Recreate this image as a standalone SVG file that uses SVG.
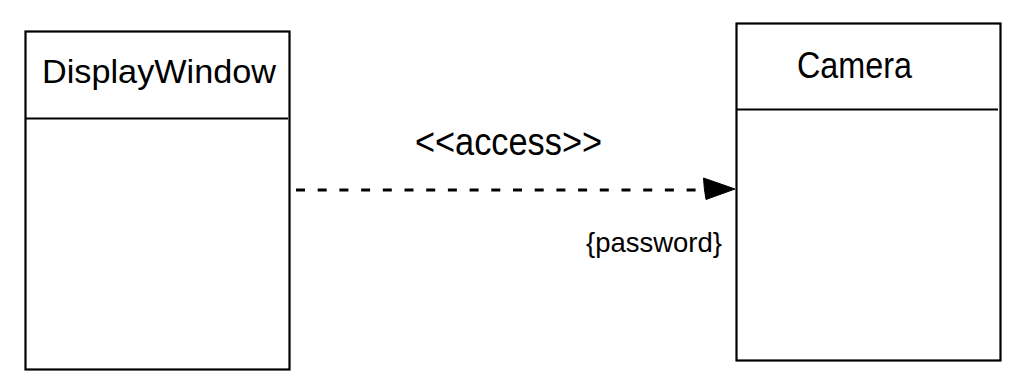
<svg xmlns="http://www.w3.org/2000/svg" width="1028" height="390" viewBox="0 0 1028 390">
<style>
.box{fill:#fff;stroke:#000;stroke-width:2.2}
.div{stroke:#000;stroke-width:2.2}
.t{font-family:"Liberation Sans",Arial,sans-serif;fill:#000}
.conn{stroke:#000;stroke-width:3;stroke-dasharray:9 12.7;fill:none}
</style>
<rect width="1028" height="390" fill="#fff"/>
<g id="connectors">
<line class="conn" x1="296" y1="190" x2="706" y2="190"/>
<path d="M703.5,178 L735,189 L706,199.5 Q704,189 703.5,178 Z" fill="#000" stroke="#000" stroke-width="1" stroke-linejoin="round"/>
<text class="t" x="415" y="155" font-size="38" textLength="187" lengthAdjust="spacingAndGlyphs">&lt;&lt;access&gt;&gt;</text>
<text class="t" x="586" y="252" font-size="28" textLength="136" lengthAdjust="spacingAndGlyphs">{password}</text>
</g>
<g id="node-displaywindow">
<rect class="box" x="25.5" y="31.5" width="264" height="338"/>
<line class="div" x1="25.5" y1="118.5" x2="288" y2="118.5"/>
<text class="t" x="42" y="83" font-size="34" textLength="234" lengthAdjust="spacingAndGlyphs">DisplayWindow</text>
</g>
<g id="node-camera">
<rect class="box" x="736.5" y="23.5" width="264" height="337"/>
<line class="div" x1="736.5" y1="109.5" x2="998" y2="109.5"/>
<text class="t" x="797" y="78" font-size="37" textLength="115" lengthAdjust="spacingAndGlyphs">Camera</text>
</g>
</svg>
